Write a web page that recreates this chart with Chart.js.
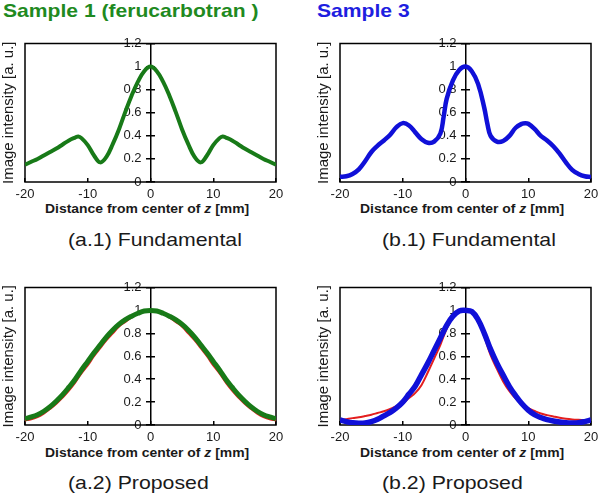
<!DOCTYPE html>
<html><head><meta charset="utf-8">
<script src="https://cdn.jsdelivr.net/npm/chart.js@4"></script>
<style>
body{margin:0;background:#fff;width:600px;height:495px;position:relative;overflow:hidden;font-family:Arial,"Liberation Sans",sans-serif;}
canvas{position:absolute;}
.t{position:absolute;white-space:nowrap;line-height:1;transform-origin:0 0;}
.title{font-weight:bold;font-size:19px;transform:scaleX(1.11);}
.cap{font-size:19px;color:#1a1a1a;transform:scaleX(1.12);}
.xt{font-weight:bold;font-size:12px;color:#1a1a1a;transform:scaleX(1.16);}
</style></head><body>
<div class="t title" style="left:3px;top:1px;color:#1f8a1f">Sample 1 (ferucarbotran )</div>
<div class="t title" style="left:317px;top:1px;color:#1e1ee0">Sample 3</div>
<canvas id="a1" width="300" height="170" style="left:0;top:30px"></canvas>
<canvas id="b1" width="300" height="170" style="left:315px;top:30px"></canvas>
<canvas id="a2" width="300" height="169" style="left:0;top:274px"></canvas>
<canvas id="b2" width="300" height="169" style="left:315px;top:274px"></canvas>
<div class="t xt" style="left:45px;top:202.5px">Distance from center of <i>z</i> [mm]</div>
<div class="t xt" style="left:360px;top:202.5px">Distance from center of <i>z</i> [mm]</div>
<div class="t xt" style="left:45px;top:446.5px">Distance from center of <i>z</i> [mm]</div>
<div class="t xt" style="left:360px;top:446.5px">Distance from center of <i>z</i> [mm]</div>
<div class="t cap" style="left:68px;top:230px">(a.1) Fundamental</div>
<div class="t cap" style="left:382px;top:230px">(b.1) Fundamental</div>
<div class="t cap" style="left:68px;top:473px">(a.2) Proposed</div>
<div class="t cap" style="left:382px;top:473px">(b.2) Proposed</div>
<script>
// ---- data ----
const xTicks = [-20, -10, 0, 10, 20];
const yTicks = [0, 0.2, 0.4, 0.6, 0.8, 1, 1.2];
const yTitle = 'Image intensity [a. u.]';

// (a.1) Sample 1, fundamental
const a1Z = [-20,-19,-18,-17,-16,-15,-14,-13,-12,-11.5,-11,-10,-9,-8,-7,-6,-5,-4,-3,-2,-1,0,1,2,3,4,5,6,7,8,9,10,11,11.5,12,13,14,15,16,17,18,19,20];
const a1Fund = [0.15,0.175,0.20,0.23,0.26,0.29,0.325,0.36,0.385,0.395,0.38,0.32,0.23,0.17,0.22,0.33,0.46,0.61,0.75,0.87,0.96,1.0,0.96,0.87,0.75,0.61,0.46,0.33,0.22,0.17,0.23,0.32,0.38,0.395,0.385,0.36,0.325,0.29,0.26,0.23,0.20,0.175,0.15];

// (b.1) Sample 3, fundamental
const b1Z = [-20,-19,-18,-17,-16,-15,-14,-13,-12,-11,-10,-9,-8,-7,-6,-5,-4,-3.5,-3,-2,-1,0,1,2,3,3.5,4,5,6,7,8,9,9.5,10,11,12,13,14,15,16,17,18,19,20];
const b1Fund = [0.045,0.05,0.07,0.11,0.18,0.26,0.315,0.36,0.41,0.475,0.51,0.49,0.43,0.37,0.34,0.35,0.42,0.56,0.72,0.88,0.97,1.0,0.96,0.85,0.64,0.50,0.40,0.35,0.355,0.40,0.47,0.505,0.51,0.505,0.46,0.40,0.36,0.31,0.245,0.17,0.105,0.07,0.05,0.043];

// shared z grid for the proposed-method panels
const zInt = [-20,-19,-18,-17,-16,-15,-14,-13,-12,-11,-10,-9,-8,-7,-6,-5,-4,-3,-2,-1,0,1,2,3,4,5,6,7,8,9,10,11,12,13,14,15,16,17,18,19,20];

// (a.2) Sample 1, proposed (green) vs reference (red)
const a2Prop = [0.055,0.07,0.09,0.12,0.16,0.21,0.265,0.33,0.40,0.48,0.555,0.63,0.70,0.77,0.83,0.88,0.92,0.95,0.975,0.995,1.0,0.995,0.975,0.95,0.92,0.88,0.83,0.77,0.70,0.63,0.555,0.48,0.40,0.33,0.265,0.21,0.16,0.12,0.09,0.07,0.055];
const a2Ref = [0.04,0.05,0.07,0.10,0.14,0.185,0.24,0.30,0.37,0.45,0.52,0.60,0.67,0.74,0.80,0.86,0.90,0.94,0.97,0.99,1.0,0.99,0.97,0.94,0.90,0.86,0.80,0.74,0.67,0.60,0.52,0.45,0.37,0.30,0.24,0.185,0.14,0.10,0.07,0.05,0.04];

// (b.2) Sample 3, proposed (blue) vs reference (red)
const b2Prop = [0.044,0.03,0.02,0.016,0.018,0.03,0.05,0.08,0.11,0.15,0.20,0.27,0.34,0.44,0.54,0.65,0.76,0.87,0.95,0.995,1.0,0.99,0.92,0.80,0.66,0.54,0.435,0.335,0.255,0.185,0.13,0.09,0.065,0.047,0.035,0.026,0.02,0.018,0.02,0.03,0.044];
const b2Ref = [0.04,0.05,0.06,0.067,0.078,0.09,0.105,0.12,0.14,0.165,0.19,0.235,0.28,0.35,0.46,0.58,0.70,0.84,0.94,0.99,1.0,0.99,0.92,0.77,0.61,0.49,0.38,0.295,0.23,0.18,0.147,0.122,0.10,0.086,0.074,0.063,0.055,0.049,0.045,0.042,0.04];

const GREEN = '#187a18', BLUE = '#1010d8', RED = '#e41e1e';

function pts(zs, vs){ return zs.map((z,i)=>({x:z, y:vs[i]})); }

// plot frame + shift of the centre-axis tick labels away from the axis line
const frame = {
  id: 'frame',
  beforeDraw(chart){
    const s = chart.scales.y;
    const x0 = chart.scales.x.getPixelForValue(0);
    s.getLabelItems().forEach(it => { it.options.translation[0] = x0 - 9; });
  },
  beforeDatasetsDraw(chart){
    const {ctx, chartArea:a} = chart;
    ctx.save(); ctx.strokeStyle = '#000'; ctx.lineWidth = 1.5;
    ctx.strokeRect(a.left, a.top, a.right - a.left, a.bottom - a.top);
    ctx.restore();
  }
};

const tickFont = {family: 'Arial, "Liberation Sans", sans-serif', size: 13};
const ink = '#1a1a1a';

function make(id, datasets, padTop){
  new Chart(document.getElementById(id), {
    type: 'line',
    data: {datasets},
    plugins: [frame],
    options: {
      responsive: false, animation: false, events: [],
      layout: {padding: {top: padTop, right: 24, left: 0, bottom: 0}},
      plugins: {legend: {display: false}, tooltip: {enabled: false}},
      elements: {point: {radius: 0}, line: {tension: 0.4}},
      scales: {
        x: {
          type: 'linear', position: 'bottom', min: -20, max: 20,
          afterBuildTicks: s => { s.ticks = xTicks.map(v => ({value: v})); },
          afterFit: s => { s.height = 18; },
          grid: {drawOnChartArea: false, drawTicks: true, tickLength: -4, color: '#000', lineWidth: 1.5},
          border: {display: false},
          ticks: {padding: 9, color: ink, font: tickFont, maxRotation: 0, autoSkip: false, callback: v => String(v)}
        },
        y: {
          type: 'linear', position: {x: 0}, min: 0, max: 1.2,
          afterBuildTicks: s => { s.ticks = yTicks.map(v => ({value: v})); },
          grid: {drawOnChartArea: false, drawTicks: true, tickLength: 4, color: '#000', lineWidth: 1.5},
          border: {display: true, color: '#000', width: 1.5},
          ticks: {padding: 5, color: ink, font: tickFont, callback: v => String(Math.round(v * 10) / 10)}
        },
        yR: {
          type: 'linear', position: {x: 0}, min: 0, max: 1.2,
          afterBuildTicks: s => { s.ticks = yTicks.map(v => ({value: v})); },
          grid: {drawOnChartArea: false, drawTicks: true, tickLength: -4, color: '#000', lineWidth: 1.5},
          border: {display: false},
          ticks: {display: false}
        },
        yL: {
          type: 'linear', position: 'left', min: 0, max: 1.2,
          afterFit: s => { s.width = 25; },
          grid: {display: false}, border: {display: false},
          ticks: {display: false},
          title: {display: true, text: yTitle, color: ink, padding: 0,
                  font: {family: 'Arial, "Liberation Sans", sans-serif', size: 15}}
        }
      }
    }
  });
}

make('a1', [
  {data: pts(a1Z, a1Fund), borderColor: GREEN, borderWidth: 4, yAxisID: 'y'}
], 13.5);
make('b1', [
  {data: pts(b1Z, b1Fund), borderColor: BLUE, borderWidth: 4.5, yAxisID: 'y'}
], 13.5);
make('a2', [
  {data: pts(zInt, a2Prop), borderColor: GREEN, borderWidth: 5, yAxisID: 'y'},
  {data: pts(zInt, a2Ref), borderColor: RED, borderWidth: 2, yAxisID: 'y'}
], 13.5);
make('b2', [
  {data: pts(zInt, b2Prop), borderColor: BLUE, borderWidth: 5.5, yAxisID: 'y'},
  {data: pts(zInt, b2Ref), borderColor: RED, borderWidth: 2, yAxisID: 'y'}
], 13.5);
</script>
</body></html>
